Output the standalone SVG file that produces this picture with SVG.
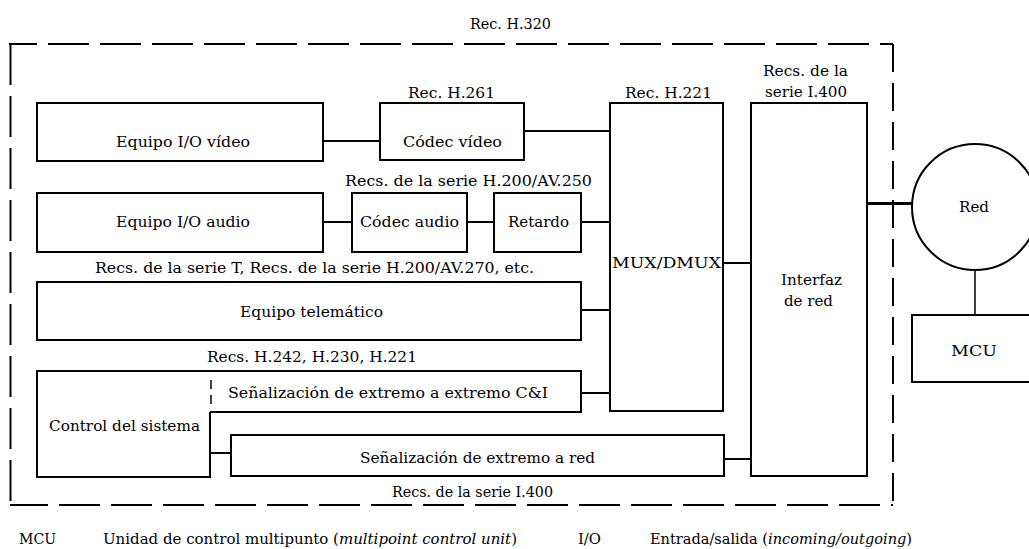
<svg xmlns="http://www.w3.org/2000/svg" width="1029" height="549" viewBox="0 0 1029 549">
<style>
.b{fill:#fff;stroke:#000;stroke-width:2}
.p{fill:none;stroke:#000;stroke-width:2}
.c{fill:none;stroke:#000;stroke-width:2}
.d{fill:none;stroke:#000;stroke-width:2}
text{font-family:"DejaVu Serif","Liberation Serif",serif;font-size:14px;fill:#000}
.i{font-style:italic}
</style>
<rect width="1029" height="549" fill="#fff"/>
<g id="frame">
<path class="d" d="M9,44 H893" stroke-dasharray="41 11" stroke-dashoffset="13"/>
<path class="d" d="M10.5,44 V505" stroke-dasharray="41 11"/>
<path class="d" d="M10,505 H893" stroke-dasharray="41 11" stroke-dashoffset="3"/>
<path class="d" d="M893,44 V505" stroke-dasharray="28 11"/>
<text x="470" y="29" textLength="81" lengthAdjust="spacingAndGlyphs">Rec. H.320</text>
<text x="392" y="497" textLength="161" lengthAdjust="spacingAndGlyphs">Recs. de la serie I.400</text>
</g>
<g id="video-io">
<rect class="b" x="37" y="103" width="286" height="58"/>
<text x="116" y="147" textLength="134" lengthAdjust="spacingAndGlyphs">Equipo I/O vídeo</text>
</g>
<g id="codec-video">
<rect class="b" x="380" y="103" width="144" height="57"/>
<text x="408" y="98" textLength="87" lengthAdjust="spacingAndGlyphs">Rec. H.261</text>
<text x="403" y="147" textLength="99" lengthAdjust="spacingAndGlyphs">Códec vídeo</text>
</g>
<g id="mux">
<rect class="b" x="610" y="103" width="113" height="308"/>
<text x="625" y="98" textLength="87" lengthAdjust="spacingAndGlyphs">Rec. H.221</text>
<text x="612" y="268" textLength="109" lengthAdjust="spacingAndGlyphs">MUX/DMUX</text>
</g>
<g id="interfaz">
<rect class="b" x="751" y="103" width="116" height="373"/>
<text x="763" y="76" textLength="85" lengthAdjust="spacingAndGlyphs">Recs. de la</text>
<text x="765" y="97" textLength="82" lengthAdjust="spacingAndGlyphs">serie I.400</text>
<text x="781" y="285" textLength="61" lengthAdjust="spacingAndGlyphs">Interfaz</text>
<text x="784" y="306" textLength="49" lengthAdjust="spacingAndGlyphs">de red</text>
</g>
<g id="audio-io">
<rect class="b" x="37" y="193" width="286" height="59"/>
<text x="116" y="227" textLength="134" lengthAdjust="spacingAndGlyphs">Equipo I/O audio</text>
</g>
<g id="codec-audio">
<rect class="b" x="352" y="193" width="115" height="59"/>
<text x="345" y="186" textLength="247" lengthAdjust="spacingAndGlyphs">Recs. de la serie H.200/AV.250</text>
<text x="360" y="227" textLength="99" lengthAdjust="spacingAndGlyphs">Códec audio</text>
</g>
<g id="retardo">
<rect class="b" x="494" y="193" width="87" height="59"/>
<text x="508" y="227" textLength="61" lengthAdjust="spacingAndGlyphs">Retardo</text>
</g>
<g id="telematico">
<rect class="b" x="37" y="282" width="544" height="58"/>
<text x="95" y="273" textLength="439" lengthAdjust="spacingAndGlyphs">Recs. de la serie T, Recs. de la serie H.200/AV.270, etc.</text>
<text x="240" y="317" textLength="143" lengthAdjust="spacingAndGlyphs">Equipo telemático</text>
</g>
<g id="control">
<path class="p" d="M210,371 H37 V477 H210 V412"/>
<text x="207" y="362" textLength="210" lengthAdjust="spacingAndGlyphs">Recs. H.242, H.230, H.221</text>
<text x="49" y="431" textLength="151" lengthAdjust="spacingAndGlyphs">Control del sistema</text>
</g>
<g id="senal-ci">
<path class="p" d="M210,371 H581 V412 H210"/>
<path fill="none" stroke="#000" stroke-width="1.5" d="M211,380 V407" stroke-dasharray="9 6"/>
<text x="228" y="398" textLength="320" lengthAdjust="spacingAndGlyphs">Señalización de extremo a extremo C&amp;I</text>
</g>
<g id="senal-red">
<rect class="b" x="231" y="435" width="493" height="41"/>
<text x="360" y="463" textLength="235" lengthAdjust="spacingAndGlyphs">Señalización de extremo a red</text>
</g>
<g id="red">
<circle class="b" cx="975" cy="207" r="63"/>
<text x="959" y="212" textLength="30" lengthAdjust="spacingAndGlyphs">Red</text>
</g>
<g id="mcu">
<rect class="b" x="912" y="315" width="120" height="67"/>
<text x="951" y="356" textLength="46" lengthAdjust="spacingAndGlyphs">MCU</text>
</g>
<g id="connectors">
<path class="c" d="M323,141 H380"/>
<path class="c" d="M524,131 H610"/>
<path class="c" d="M323,222 H352"/>
<path class="c" d="M467,222 H494"/>
<path class="c" d="M581,222 H610"/>
<path class="c" d="M581,310 H610"/>
<path class="c" d="M581,393 H610"/>
<path class="c" d="M723,263 H751"/>
<path class="c" d="M724,459 H751"/>
<path class="c" d="M210,453 H231"/>
<path fill="none" stroke="#000" stroke-width="3" d="M867,203.5 H912"/>
<path fill="none" stroke="#000" stroke-width="1.5" d="M975,270 V315"/>
</g>
<g id="legend">
<text x="19" y="544" textLength="37" lengthAdjust="spacingAndGlyphs">MCU</text>
<text x="103" y="544" textLength="414" lengthAdjust="spacingAndGlyphs">Unidad de control multipunto (<tspan class="i">multipoint control unit</tspan>)</text>
<text x="578" y="544" textLength="23" lengthAdjust="spacingAndGlyphs">I/O</text>
<text x="650" y="544" textLength="262" lengthAdjust="spacingAndGlyphs">Entrada/salida (<tspan class="i">incoming/outgoing</tspan>)</text>
</g>
</svg>
